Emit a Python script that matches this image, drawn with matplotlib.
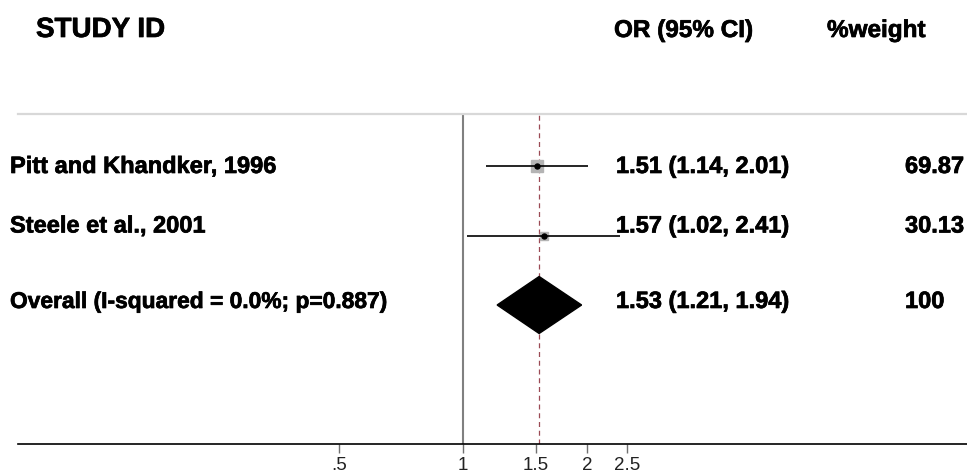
import matplotlib
matplotlib.use("Agg")
import matplotlib.pyplot as plt
import matplotlib.transforms as mtransforms
import matplotlib.patheffects as pe
import numpy as np

# ---- data ----
studies = ["Pitt and Khandker, 1996", "Steele et al., 2001"]
or_est = [1.51, 1.57]
ci_lo = [1.14, 1.02]
ci_hi = [2.01, 2.41]
weights = [69.87, 30.13]
overall_label = "Overall"
overall_note = "(I-squared = 0.0%; p=0.887)"
overall_est = 1.53
overall_lo = 1.21
overall_hi = 1.94
overall_weight = "100"
tick_values = [0.5, 1, 1.5, 2, 2.5]
tick_labels = [".5", "1", "1.5", "2", "2.5"]

plt.rcParams['font.family'] = ['Liberation Sans', 'DejaVu Sans']

W, H = 967, 475
fig = plt.figure(figsize=(W / 100, H / 100), dpi=100)

# axes from pixel x 18..967, y 114..444
ax_left, ax_right, ax_top, ax_bot = 18, 967, 114, 444
ax = fig.add_axes([ax_left / W, 1 - ax_bot / H, (ax_right - ax_left) / W, (ax_bot - ax_top) / H])
ax.set_xscale('log')
px_per_ln = 179.0
x_one = 463.0
ax.set_xlim(np.exp((ax_left - x_one) / px_per_ln), np.exp((ax_right - x_one) / px_per_ln))
row_gap = 69.5
row0 = 166.0
ax.set_ylim((ax_bot - row0) / row_gap, (ax_top - row0) / row_gap)

for s in ['left', 'right']:
    ax.spines[s].set_visible(False)
ax.spines['top'].set_color('#d8d8d8')
ax.spines['top'].set_linewidth(1.6)
ax.spines['bottom'].set_color('black')
ax.spines['bottom'].set_linewidth(1.2)

ax.set_yticks([])
ax.xaxis.set_minor_locator(matplotlib.ticker.NullLocator())
ax.xaxis.set_minor_formatter(matplotlib.ticker.NullFormatter())
ax.set_xticks(tick_values)
ax.set_xticklabels(tick_labels, fontsize=13.5, color='#222222')
ax.tick_params(axis='x', which='major', direction='out', length=6.5, width=1.0, color='#707070',
               pad=3)

# reference lines
ax.axvline(1, color='#808080', lw=1.5, zorder=1)
ax.axvline(overall_est, color='#9b4a55', lw=0.9, ls=(0, (4, 3)), zorder=1)

rows = np.arange(len(studies))
max_side = 12.0  # pixels
for i, (e, lo, hi, w) in enumerate(zip(or_est, ci_lo, ci_hi, weights)):
    ax.plot([lo, hi], [rows[i], rows[i]], color='black', lw=1.2, zorder=3,
            solid_capstyle='butt')
    side_pt = max_side * np.sqrt(w / max(weights)) * 0.72
    ax.plot([e], [rows[i]], marker='s', ms=side_pt, color='#b4b4b4', mec='#b4b4b4', zorder=2)
    ax.plot([e], [rows[i]], marker='o', ms=3.6, color='black', zorder=4)

yo = len(studies)
dh = 28.5 / row_gap
ax.fill([overall_lo, overall_est, overall_hi, overall_est],
        [yo, yo - dh, yo, yo + dh], color='black', zorder=3)

# text (baselines given as pixel offsets from row centre)
thick = [pe.withStroke(linewidth=0.5, foreground='black')]
trans = mtransforms.blended_transform_factory(fig.transFigure, ax.transData)
bold = dict(fontweight='bold', color='black', va='baseline', ha='left', transform=trans,
            fontsize=17, path_effects=thick)
text_offsets = [7 / row_gap, -3 / row_gap, 3 / row_gap]
for i, name in enumerate(studies):
    y = rows[i] + text_offsets[i]
    ax.text(10 / W, y, name, **bold)
    ax.text(616 / W, y, f"{or_est[i]:.2f} ({ci_lo[i]:.2f}, {ci_hi[i]:.2f})", **bold)
    ax.text(905 / W, y, f"{weights[i]:.2f}", **bold)

y = yo + text_offsets[2]
ov = dict(bold)
ov['fontsize'] = 16.4
ax.text(10 / W, y, f"{overall_label} {overall_note}", **ov)
ax.text(616 / W, y, f"{overall_est:.2f} ({overall_lo:.2f}, {overall_hi:.2f})", **bold)
ax.text(905 / W, y, overall_weight, **bold)

hb = 1 - 37 / H
fig.text(36 / W, hb, "STUDY ID", fontweight='bold', fontsize=20, va='baseline', ha='left',
         path_effects=thick)
fig.text(614 / W, hb, "OR (95% CI)", fontweight='bold', fontsize=17.5, va='baseline', ha='left',
         path_effects=thick)
fig.text(827 / W, hb, "%weight", fontweight='bold', fontsize=17.5, va='baseline', ha='left',
         path_effects=thick)

for t in ax.texts:
    t.set_clip_on(False)

fig.savefig("out.png", dpi=100)
